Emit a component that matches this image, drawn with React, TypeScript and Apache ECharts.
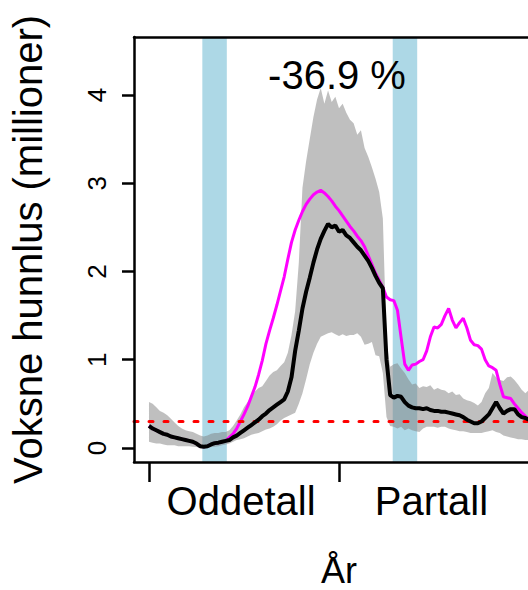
import React, { useEffect, useRef } from "react";
import * as echarts from "echarts";

// x positions (weeks over two seasons)
const weeks: number[] = Array.from({ length: 105 }, (_, i) => i);

const blackLine: number[] = [
  0.25, 0.22, 0.2, 0.18, 0.16, 0.15, 0.13, 0.12, 0.11, 0.1,
  0.09, 0.08, 0.07, 0.05, 0.02, 0.015, 0.02, 0.04, 0.055, 0.06,
  0.07, 0.08, 0.09, 0.12, 0.14, 0.17, 0.2, 0.23, 0.26, 0.29,
  0.32, 0.36, 0.39, 0.43, 0.46, 0.49, 0.52, 0.55, 0.64, 0.8,
  1.1, 1.33, 1.58, 1.77, 1.93, 2.1, 2.25, 2.37, 2.46, 2.54,
  2.5, 2.52, 2.45, 2.47, 2.41, 2.38, 2.33, 2.28, 2.24, 2.18,
  2.12, 2.04, 1.95, 1.87, 1.81, 1.0, 0.6, 0.57, 0.59, 0.58,
  0.52, 0.48, 0.46, 0.45, 0.45, 0.44, 0.45, 0.43, 0.42, 0.42,
  0.41, 0.41, 0.4, 0.39, 0.38, 0.37, 0.35, 0.32, 0.3, 0.28,
  0.28, 0.3, 0.34, 0.38, 0.45, 0.52, 0.45, 0.39, 0.42, 0.44,
  0.44, 0.38, 0.35, 0.34, 0.32,
];

const magentaLine: number[] = [
  0.25, 0.22, 0.2, 0.18, 0.16, 0.15, 0.13, 0.12, 0.11, 0.1,
  0.09, 0.08, 0.07, 0.05, 0.02, 0.015, 0.02, 0.04, 0.055, 0.06,
  0.07, 0.08, 0.12, 0.16, 0.22, 0.3, 0.38, 0.47, 0.58, 0.69,
  0.83, 0.99, 1.18, 1.33, 1.47, 1.62, 1.78, 1.94, 2.14, 2.33,
  2.47, 2.58, 2.68, 2.76, 2.82, 2.87, 2.9, 2.92, 2.89, 2.85,
  2.8, 2.74, 2.69, 2.63, 2.57, 2.51, 2.46, 2.4, 2.35, 2.28,
  2.18, 2.08, 1.98, 1.9, 1.82, 1.71, 1.68, 1.67, 1.56, 1.25,
  0.95, 0.88, 0.94, 0.95, 0.98, 1.0, 1.1, 1.26, 1.37, 1.36,
  1.4, 1.5, 1.58, 1.45, 1.36, 1.42, 1.47, 1.36, 1.22, 1.17,
  1.16, 1.12, 1.0, 0.93, 0.91, 0.88, 0.72, 0.58, 0.57, 0.56,
  0.5, 0.45, 0.4, 0.36, 0.32,
];

const bandUpper: number[] = [
  0.52, 0.5, 0.46, 0.42, 0.4, 0.37, 0.33, 0.29, 0.25, 0.22,
  0.2, 0.19, 0.18, 0.16, 0.14, 0.13, 0.14, 0.16, 0.17, 0.17,
  0.18, 0.18, 0.2, 0.25, 0.31, 0.38, 0.46, 0.52, 0.58, 0.64,
  0.68, 0.7, 0.76, 0.82, 0.86, 0.88, 0.93, 0.97, 1.08, 1.28,
  1.55, 2.1, 2.95, 3.25, 3.5, 3.75, 3.95, 4.08, 3.9, 4.05,
  3.92, 3.98, 3.85, 3.9, 3.8, 3.72, 3.68, 3.55, 3.6, 3.4,
  3.3, 3.18, 3.05, 2.9, 2.6, 1.2, 0.92, 0.95, 0.96, 0.9,
  0.85, 0.78, 0.72, 0.73, 0.68, 0.7, 0.69, 0.71, 0.66, 0.68,
  0.66, 0.65, 0.62, 0.64, 0.6, 0.61, 0.56, 0.54, 0.53, 0.51,
  0.48, 0.52, 0.62, 0.68, 0.85, 0.8, 0.77, 0.76, 0.8, 0.81,
  0.77, 0.72, 0.66, 0.62, 0.66,
];

const bandLower: number[] = [
  0.07, 0.06, 0.05, 0.05, 0.04, 0.03, 0.03, 0.03, 0.02, 0.02,
  0.02, 0.02, 0.015, 0.01, 0.0, 0.0, 0.0, 0.01, 0.015, 0.02,
  0.03, 0.04, 0.05, 0.07, 0.09, 0.1, 0.11, 0.13, 0.15, 0.16,
  0.17, 0.19, 0.21, 0.22, 0.24, 0.27, 0.31, 0.34, 0.36, 0.38,
  0.4, 0.5, 0.62, 0.78, 0.95, 1.08, 1.18, 1.26, 1.28, 1.3,
  1.31, 1.29, 1.27, 1.29, 1.27, 1.28, 1.28, 1.3, 1.26, 1.17,
  1.18, 1.2, 1.05, 1.04, 0.85, 0.35, 0.25, 0.24, 0.22, 0.24,
  0.2, 0.22, 0.2, 0.19, 0.18, 0.22, 0.24, 0.24, 0.24, 0.23,
  0.24, 0.24, 0.22, 0.21, 0.2, 0.19, 0.19, 0.18, 0.17, 0.17,
  0.17, 0.17, 0.18, 0.19, 0.2, 0.18, 0.17, 0.14, 0.13, 0.12,
  0.11, 0.1, 0.1, 0.09, 0.09,
];

const bandStarts: number[] = [14.6, 66.7];
const bandEnds: number[] = [21.3, 73.4];
const threshold = 0.3;
const xTicks: number[] = [0, 52, 104];
const xLabelPositions: number[] = [25.2, 77.3];
const xLabels: string[] = ["Oddetall", "Partall"];
const yTicks: number[] = [0, 1, 2, 3, 4];
const changeText = "-36.9 %";

const FONT = "'Liberation Sans', Arial, Helvetica, sans-serif";

export default function App() {
  const ref = useRef<HTMLDivElement>(null);

  useEffect(() => {
    if (!ref.current) return;
    const chart = echarts.init(ref.current, undefined, { renderer: "svg" });
    const xMin = -4.1;
    const xMax = 108.1;
    const yMin = -0.159;
    const yMax = 4.657;
    const axisLineStyle = { color: "#000", width: 2.5 };

    const bandData = weeks.map((w, i) => [w, bandLower[i], bandUpper[i]]);

    const option: any = {
      animation: false,
      textStyle: { fontFamily: FONT },
      grid: {
        left: 134,
        top: 37,
        width: 410,
        height: 425,
        containLabel: false,
        outerBoundsMode: "none",
      },
      xAxis: [
        {
          type: "value",
          min: xMin,
          max: xMax,
          position: "bottom",
          z: 10,
          axisLine: { show: true, onZero: false, lineStyle: axisLineStyle },
          axisTick: {
            show: true,
            customValues: xTicks,
            length: 20,
            lineStyle: axisLineStyle,
          },
          axisLabel: {
            customValues: xLabelPositions,
            formatter: (v: number) => xLabels[xLabelPositions.indexOf(v)] ?? "",
            fontSize: 40,
            color: "#000",
            margin: 19,
            fontFamily: FONT,
          },
          splitLine: { show: false },
          name: "År",
          nameLocation: "middle",
          nameGap: 94,
          nameTextStyle: { fontSize: 36, lineHeight: 28, color: "#000", fontFamily: FONT },
        },
        {
          type: "value",
          min: xMin,
          max: xMax,
          position: "top",
          z: 10,
          axisLine: { show: true, onZero: false, lineStyle: axisLineStyle },
          axisTick: { show: false },
          axisLabel: { show: false },
          splitLine: { show: false },
        },
      ],
      yAxis: [
        {
          type: "value",
          min: yMin,
          max: yMax,
          z: 10,
          axisLine: { show: true, onZero: false, lineStyle: axisLineStyle },
          axisTick: {
            show: true,
            customValues: yTicks,
            length: 12,
            lineStyle: axisLineStyle,
          },
          axisLabel: {
            customValues: yTicks,
            rotate: 90,
            fontSize: 26,
            color: "#000",
            margin: 24,
            fontFamily: FONT,
          },
          splitLine: { show: false },
          name: "Voksne hunnlus (millioner)",
          nameLocation: "middle",
          nameGap: 86,
          nameTextStyle: { fontSize: 40, color: "#000", fontFamily: FONT },
        },
      ],
      graphic: [
        {
          type: "text",
          x: 337,
          y: 75,
          z: 100,
          style: {
            text: changeText,
            fontSize: 40,
            fontFamily: FONT,
            fill: "#000",
            align: "center",
            verticalAlign: "middle",
          },
        },
      ],
      series: [
        {
          type: "line",
          name: "bands",
          data: [],
          symbol: "none",
          silent: true,
          z: 1,
          markArea: {
            silent: true,
            itemStyle: { color: "#ADD8E6" },
            label: { show: false },
            data: bandStarts.map((s, i) => [{ xAxis: s }, { xAxis: bandEnds[i] }]),
          },
        },
        {
          type: "line",
          name: "threshold",
          data: [],
          symbol: "none",
          silent: true,
          z: 2,
          markLine: {
            silent: true,
            symbol: "none",
            label: { show: false },
            lineStyle: { color: "#FF0000", width: 3, type: [4, 11], cap: "round" },
            data: [{ yAxis: threshold }],
          },
        },
        {
          type: "custom",
          name: "interval",
          data: bandData,
          encode: { x: 0, y: [1, 2] },
          silent: true,
          z: 3,
          renderItem: (params: any, api: any) => {
            if (params.dataIndex !== 0) return null;
            const top = bandData.map((d) => api.coord([d[0], d[2]]));
            const bottom = bandData
              .slice()
              .reverse()
              .map((d) => api.coord([d[0], d[1]]));
            return {
              type: "polygon",
              shape: { points: top.concat(bottom) },
              style: { fill: "rgba(128,128,128,0.5)", stroke: "none" },
            };
          },
        },
        {
          type: "line",
          name: "magenta",
          data: weeks.map((w, i) => [w, magentaLine[i]]),
          symbol: "none",
          silent: true,
          lineStyle: { color: "#FF00FF", width: 3 },
          z: 4,
        },
        {
          type: "line",
          name: "black",
          data: weeks.map((w, i) => [w, blackLine[i]]),
          symbol: "none",
          silent: true,
          lineStyle: { color: "#000000", width: 4 },
          z: 5,
        },
      ],
    };

    chart.setOption(option);
    return () => chart.dispose();
  }, []);

  return (
    <div
      ref={ref}
      style={{
        position: "fixed",
        left: 0,
        top: 0,
        width: 528,
        height: 590,
        background: "#fff",
      }}
    />
  );
}
